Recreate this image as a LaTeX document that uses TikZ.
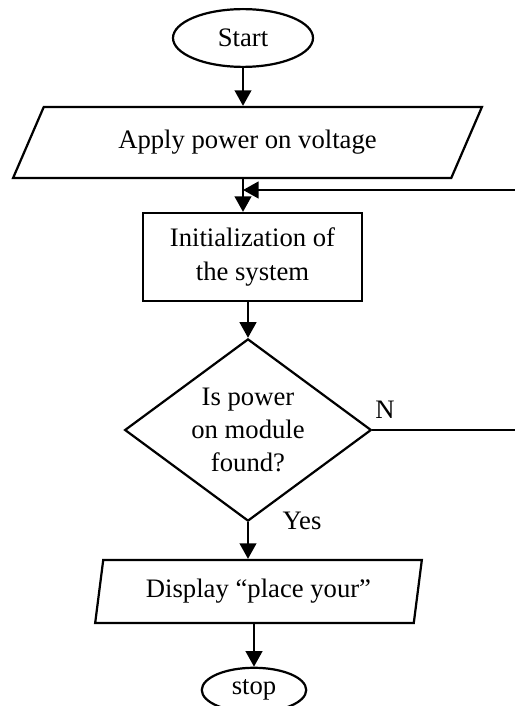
\documentclass[tikz,border=0pt]{standalone}
\usepackage{fontspec}
\setmainfont{Liberation Serif}
\usepackage{tikz}
\usetikzlibrary{shapes.geometric,arrows.meta}

\tikzset{
    flowbase/.style={
        draw,
        line width=1pt,
        align=center,
        inner sep=0pt,
        font=\fontsize{12}{15}\selectfont
    },
    terminal/.style={flowbase, ellipse},
    process/.style={flowbase, rectangle},
    decision/.style={flowbase, diamond, aspect=1.35},
    iobox/.style={
        flowbase,
        trapezium,
        trapezium left angle=#1,
        trapezium right angle=180-#1,
        trapezium stretches body
    },
    flowline/.style={line width=1pt},
    flowarrow/.style={line width=1pt, -{Triangle[length=7pt,width=7.5pt]}},
    flowlabel/.style={font=\fontsize{12}{15}\selectfont, inner sep=0pt}
}

\begin{document}
\begin{tikzpicture}[x=0.45pt, y=-0.45pt]
    \useasboundingbox (0,0) rectangle (515,706);

    % shapes
    \node[terminal, minimum width=63pt, minimum height=26pt] (start) at (243,38) {Start};
    \node[iobox=38.3, minimum width=211pt, minimum height=32pt] (apply) at (247.5,142.5) {Apply power on voltage};
    \node[process, minimum width=98.6pt, minimum height=39.6pt] (init) at (252.5,257) {Initialization of\\the system};
    \node[decision, minimum width=111pt, minimum height=82pt] (dec) at (248,430) {Is power\\on module\\found?};
    \node[iobox=71.6, minimum width=147pt, minimum height=28.4pt] (show) at (258.5,591.5) {Display “place your”};
    \node[terminal, minimum width=47pt, minimum height=20pt] (stop) at (254,690) {stop};

    % labels
    \node[flowlabel] (nlabel) at (385,410) {N};
    \node[flowlabel] (ylabel) at (302,521) {Yes};

    % free ends at the right edge
    \coordinate (loopin) at (515,190);
    \coordinate (nout) at (515,430);

    % connectors
    \draw[flowarrow] (start.south) -- (start.south |- apply.north);
    \draw[flowarrow] (apply.south -| start) -- (init.north -| start);
    \draw[flowarrow] (loopin) -- (loopin -| start);
    \draw[flowarrow] (init.south -| dec) -- (dec.north);
    \draw[flowarrow] (dec.south) -- (dec.south |- show.north);
    \draw[flowarrow] (show.south -| stop) -- (stop.north);
    \draw[flowline] (dec.east) -- (nout);
\end{tikzpicture}
\end{document}
